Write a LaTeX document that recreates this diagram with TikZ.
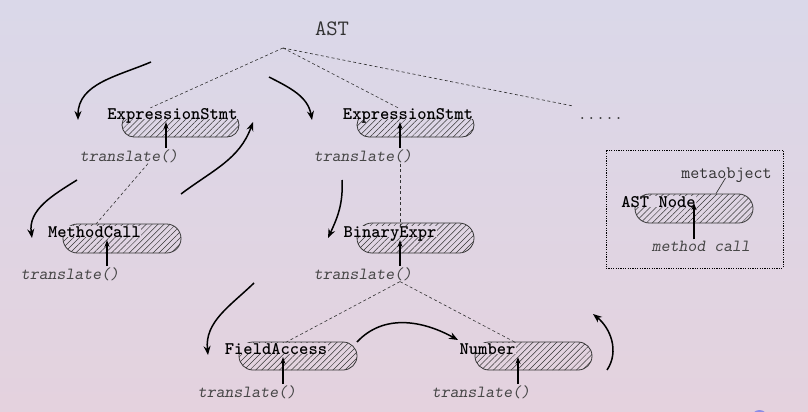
\documentclass[tikz,border=0pt]{standalone}
\usepackage{fontspec}
\usepackage{tikz}
\usetikzlibrary{arrows.meta}
\usetikzlibrary{patterns.meta}
\usetikzlibrary{shapes}
\newfontfamily\nodefont{lmmonolt10-bold}[Extension=.otf]
\newfontfamily\slfont{lmmonoslant10-regular}[Extension=.otf]
\definecolor{bgtop}{RGB}{218,216,233}
\definecolor{bgbot}{RGB}{228,210,222}
\definecolor{ink}{RGB}{55,55,55}
\definecolor{gray1}{RGB}{70,70,70}
\definecolor{gray2}{RGB}{50,50,50}
\definecolor{navblue}{RGB}{140,140,230}

\begin{document}
\begin{tikzpicture}[x=1pt, y=-1pt, >=Stealth,
    pill/.style = {draw=ink, rounded rectangle, inner sep=0pt, line width=0.8pt,
        pattern={Lines[angle=45, distance=4.2pt, line width=0.5pt]}, pattern color=ink},
    lbl/.style = {fill=bgtop!#1!bgbot, inner sep=0pt, inner xsep=0.5pt, text depth=0pt,
        anchor=base, font=\nodefont\fontsize{17.7}{20}\selectfont},
    meth/.style = {anchor=base, text=gray1, inner sep=1pt,
        font=\slfont\fontsize{17}{20}\selectfont},
    note/.style = {anchor=base, text=gray2, inner sep=1pt,
        font=\ttfamily\fontsize{17.5}{20}\selectfont},
    tree/.style = {draw=gray2, dash pattern=on 3pt off 2.5pt, line width=0.6pt},
    walk/.style = {-{Stealth[length=9pt, width=7pt]}, line width=1.5pt},
    call/.style = {-{Stealth[length=7pt, width=5pt]}, line width=1.3pt},
    legbox/.style = {draw=black, dash pattern=on 1.2pt off 1.2pt, line width=1pt,
        minimum width=177pt, minimum height=118pt, inner sep=0pt}]
    \useasboundingbox (0,0) rectangle (808,412);
    \shade[top color=bgtop, bottom color=bgbot] (0,0) rectangle (808,412);
    \fill[navblue] (759.5,418) circle (8);

    % Pills
    \node[pill, minimum width=117pt, minimum height=24pt] (pA) at (180.5,125) {};
    \node[pill, minimum width=117pt, minimum height=24pt] (pB) at (415.5,125) {};
    \node[pill, minimum width=118pt, minimum height=29pt] (pM) at (122,238.5) {};
    \node[pill, minimum width=117pt, minimum height=30pt] (pX) at (415.5,238) {};
    \node[pill, minimum width=118pt, minimum height=28pt] (pF) at (298,356) {};
    \node[pill, minimum width=117pt, minimum height=28pt] (pN) at (533.5,356) {};
    \node[pill, minimum width=118pt, minimum height=29pt] (pK) at (694,208.5) {};

    % Nodes
    \node[lbl=73] (eA) at (172.5,119) {ExpressionStmt};
    \node[lbl=73] (eB) at (408,119) {ExpressionStmt};
    \node[lbl=42] (eM) at (94.5,237) {MethodCall};
    \node[lbl=42] (eX) at (390,237) {BinaryExpr};
    \node[lbl=14] (eF) at (276,354) {FieldAccess};
    \node[lbl=14] (eN) at (487.5,354) {Number};
    \node[lbl=50] (eK) at (658.5,207) {AST Node};

    \node[meth] (tA) at (129,161) {translate()};
    \node[meth] (tB) at (363,161) {translate()};
    \node[meth] (tM) at (70,279) {translate()};
    \node[meth] (tX) at (363,279) {translate()};
    \node[meth] (tF) at (247,397) {translate()};
    \node[meth] (tN) at (481,397) {translate()};
    \node[meth] (tK) at (701,251) {method call};

    \node[note, font=\ttfamily\fontsize{22}{24}\selectfont] (ast) at (332,36) {AST};
    \node[note] (dots) at (600.5,119) {.....};
    \node[note] (mo) at (726.5,178) {metaobject};
    \node[legbox] (key) at (694.5,209) {};

    \coordinate (root) at (283,48);
    \coordinate (etc) at (573,106);
    \coordinate (hA) at (166,122);
    \coordinate (hB) at (400,122);
    \coordinate (hM) at (107,240);
    \coordinate (hX) at (400,240);
    \coordinate (hF) at (283,357);
    \coordinate (hN) at (518,357);
    \coordinate (hK) at (694,203);

    % Tree
    \draw[tree] (root) -- ([xshift=-22pt]eA.north);
    \draw[tree] (root) -- ([xshift=-10pt]eB.north);
    \draw[tree] (root) -- (etc);
    \draw[tree] ([xshift=19pt]tA.south) -- (eM.north);
    \draw[tree] (hB |- tB.south) -- (hB |- eX.north);
    \draw[tree] (hX |- tX.south) -- ([xshift=9pt]eF.north);
    \draw[tree] (hX |- tX.south) -- ([xshift=29pt]eN.north);
    \draw[ink, line width=0.7pt] ([xshift=-1pt]mo.base) -- ([xshift=22pt]pK.north);

    % Calls
    \draw[call] (hA |- tA.north) -- (hA);
    \draw[call] (hB |- tB.north) -- (hB);
    \draw[call] (hM |- tM.north) -- (hM);
    \draw[call] (hX |- tX.north) -- (hX);
    \draw[call] (hF |- tF.north) -- (hF);
    \draw[call] (hN |- tN.north) -- (hN);
    \draw[call] (hK |- tK.north) -- (hK);

    % Walk
    \coordinate (w1a) at (151,62);  \coordinate (w1b) at (78,120);
    \coordinate (w2a) at (269,77);  \coordinate (w2b) at (312,120);
    \coordinate (w3a) at (181,194); \coordinate (w3b) at (253,122);
    \coordinate (w4a) at (77,180);  \coordinate (w4b) at (32,238);
    \coordinate (w5a) at (342,180); \coordinate (w5b) at (328,238);
    \coordinate (w6a) at (254,283); \coordinate (w6b) at (208,355);
    \coordinate (w7a) at (357,342); \coordinate (w7b) at (458,340);
    \coordinate (w8a) at (607,370); \coordinate (w8b) at (593,314);
    \draw[walk] (w1a) to[out=203, in=90] (w1b);
    \draw[walk] (w2a) to[out=-27, in=100] (w2b);
    \draw[walk] (w3a) to[out=37, in=-110] (w3b);
    \draw[walk] (w4a) to[out=212, in=98] (w4b);
    \draw[walk] (w5a) to[out=-87, in=65] (w5b);
    \draw[walk] (w6a) to[out=224, in=96] (w6b);
    \draw[walk] (w7a) to[out=47, in=151] (w7b);
    \draw[walk] (w8a) to[out=56, in=-39] (w8b);
\end{tikzpicture}
\end{document}
